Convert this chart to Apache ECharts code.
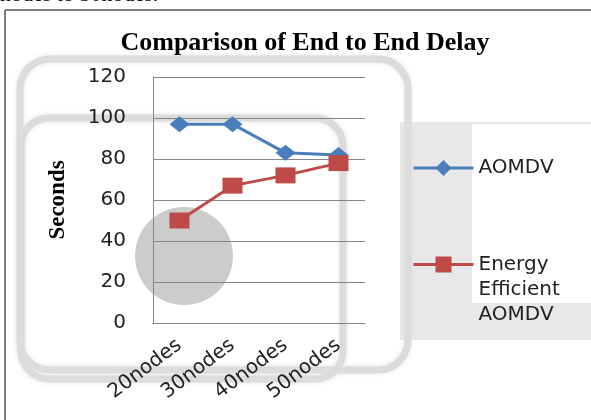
<!DOCTYPE html>
<html>
<head>
<meta charset="utf-8">
<script src="https://cdn.jsdelivr.net/npm/echarts@6/dist/echarts.min.js"></script>
<style>
  html, body { margin: 0; padding: 0; background: #fff; }
  #myChart { width: 591px; height: 420px; }
</style>
</head>
<body>
<div id="myChart"></div>
<script>
// chart values
const categories = ['20nodes', '30nodes', '40nodes', '50nodes']
const aomdv = [97, 97, 83, 82]
const energyAomdv = [50, 67, 72, 78]
const seriesNames = ['AOMDV', 'Energy Efficient AOMDV']
const titleText = 'Comparison of End to End Delay'
const yName = 'Seconds'

const blue = '#4a7ebb'
const red = '#be4b48'
const gridColor = '#868686'
const band = '#dcdcdc'

var myChart = echarts.init(document.getElementById('myChart'))
myChart.setOption({
  animation: false,
  backgroundColor: '#fff',
  title: {
    text: titleText,
    left: 300,
    textAlign: 'center',
    top: 25,
    textStyle: {
      fontFamily: 'Liberation Serif',
      fontWeight: 'bold',
      fontSize: 26,
      color: '#000'
    }
  },
  grid: {
    left: 153,
    right: 226,
    top: 77,
    bottom: 97
  },
  legend: [{
    data: [seriesNames[0]],
    orient: 'vertical',
    left: 407,
    top: 150.5,
    itemWidth: 60,
    itemHeight: 20,
    lineStyle: { width: 3 },
    textStyle: { fontFamily: 'DejaVu Sans', fontSize: 20, lineHeight: 25, color: '#222' }
  }, {
    data: [seriesNames[1]],
    orient: 'vertical',
    left: 407,
    top: 197,
    itemWidth: 60,
    itemHeight: 20,
    lineStyle: { width: 3 },
    formatter: function () {
      return '\n\nEnergy\nEfficient\nAOMDV'
    },
    textStyle: { fontFamily: 'DejaVu Sans', fontSize: 20, lineHeight: 25, color: '#222' }
  }],
  xAxis: {
    type: 'category',
    data: categories,
    boundaryGap: true,
    axisLine: { lineStyle: { color: gridColor, width: 1 } },
    axisTick: { show: false },
    axisLabel: {
      rotate: 37,
      margin: 20,
      fontFamily: 'DejaVu Sans',
      fontSize: 20,
      color: '#222'
    }
  },
  yAxis: {
    type: 'value',
    min: 0,
    max: 120,
    interval: 20,
    name: yName,
    nameLocation: 'middle',
    nameRotate: 90,
    nameGap: 83,
    nameTextStyle: {
      fontFamily: 'Liberation Serif',
      fontWeight: 'bold',
      fontSize: 23,
      color: '#000'
    },
    axisLine: { show: true, lineStyle: { color: gridColor, width: 1 } },
    axisTick: { show: false },
    splitLine: { lineStyle: { color: gridColor, width: 1 } },
    axisLabel: {
      margin: 27,
      fontFamily: 'DejaVu Sans',
      fontSize: 20,
      color: '#222'
    }
  },
  graphic: [
    // clipped caption from the page above
    {
      type: 'text', z: 5, x: 0, y: 6,
      style: { text: 'nodes to 50nodes.', fontFamily: 'Liberation Serif', fontSize: 22, fill: '#000', verticalAlign: 'bottom' }
    },
    // outer frame
    { type: 'line', z: 5, shape: { x1: 5, y1: 10, x2: 591, y2: 10 }, style: { stroke: '#7f7f7f', lineWidth: 2 } },
    { type: 'line', z: 5, shape: { x1: 5, y1: 10, x2: 5, y2: 420 }, style: { stroke: '#7f7f7f', lineWidth: 2 } },
    // grey legend backdrop
    { type: 'rect', z: -10, shape: { x: 400, y: 122, width: 191, height: 218 }, style: { fill: '#e8e8e8' } },
    { type: 'rect', z: -9, shape: { x: 472, y: 124, width: 119, height: 179 }, style: { fill: '#fff' } },
    // faded rounded frames behind the plot
    { type: 'rect', z: -8, shape: { x: 20, y: 59, width: 388, height: 311, r: 30 }, style: { fill: 'none', stroke: band, lineWidth: 7, shadowBlur: 5, shadowColor: '#e4e4e4' } },
    { type: 'rect', z: -8, shape: { x: 21, y: 118, width: 322, height: 261, r: 28 }, style: { fill: 'none', stroke: band, lineWidth: 7, shadowBlur: 5, shadowColor: '#e4e4e4' } },
    // grey disc
    { type: 'circle', z: -7, shape: { cx: 184, cy: 256, r: 49 }, style: { fill: '#cccccc' } }
  ],
  series: [{
    name: seriesNames[0],
    type: 'line',
    data: aomdv,
    symbol: 'diamond',
    symbolSize: [20, 16],
    lineStyle: { color: blue, width: 3 },
    itemStyle: { color: blue }
  }, {
    name: seriesNames[1],
    type: 'line',
    data: energyAomdv,
    symbol: 'rect',
    symbolSize: [20, 16],
    lineStyle: { color: red, width: 3 },
    itemStyle: { color: red }
  }]
})
</script>
</body>
</html>
